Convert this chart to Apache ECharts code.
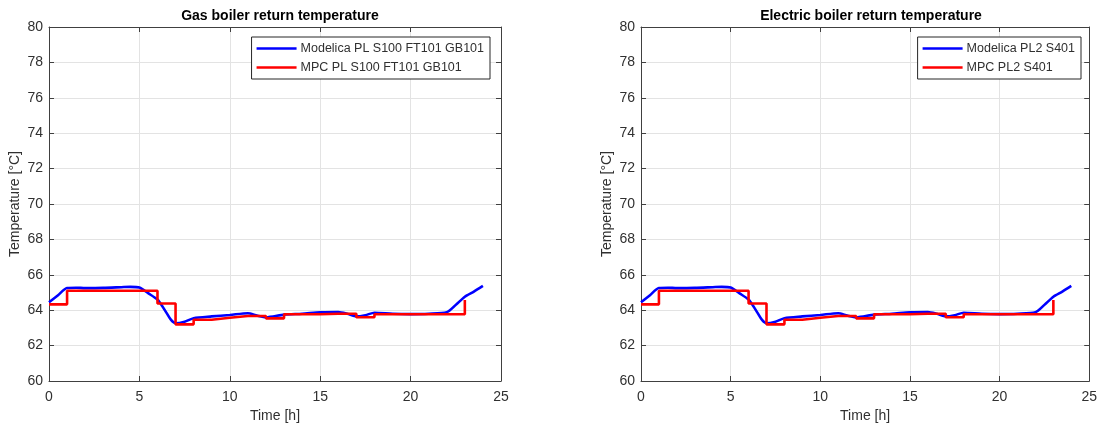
<!DOCTYPE html>
<html>
<head>
<meta charset="utf-8">
<script src="https://cdn.jsdelivr.net/npm/echarts@6/dist/echarts.min.js"></script>
<style>
html,body{margin:0;padding:0;background:#fff;}
#chart{width:1100px;height:428px;}
</style>
</head>
<body>
<div id="chart"></div>
<script>
// ---- Data ----
const titles = ["Gas boiler return temperature", "Electric boiler return temperature"];
const modelicaNames = ["Modelica PL S100 FT101 GB101", "Modelica PL2 S401"];
const mpcNames = ["MPC PL S100 FT101 GB101", "MPC PL2 S401"];

// Modelica (continuous) simulation
const modelicaTime = [0, 0.5, 1, 1.5, 2, 3, 4, 4.5, 5, 5.5, 6, 6.25, 6.5, 6.75, 7, 7.5, 8, 9, 10, 11, 11.5, 12, 13, 14, 15, 16, 16.5, 17, 17.5, 18, 19, 20, 21, 22, 22.5, 23, 23.5, 24];
const modelicaTemp = [64.45, 64.85, 65.25, 65.27, 65.25, 65.26, 65.3, 65.32, 65.28, 64.95, 64.6, 64.25, 63.85, 63.45, 63.26, 63.35, 63.55, 63.65, 63.73, 63.83, 63.7, 63.6, 63.75, 63.8, 63.88, 63.9, 63.8, 63.65, 63.72, 63.86, 63.8, 63.78, 63.8, 63.88, 64.3, 64.76, 65.05, 65.37];

// MPC (hourly, stairs)
const mpcTime = [0, 1, 2, 3, 4, 5, 6, 7, 8, 9, 10, 11, 12, 13, 14, 15, 16, 17, 18, 19, 20, 21, 22, 23];
const mpcTemp = [64.33, 65.1, 65.1, 65.1, 65.1, 65.1, 64.38, 63.2, 63.46, 63.57, 63.67, 63.67, 63.54, 63.77, 63.77, 63.8, 63.8, 63.6, 63.77, 63.77, 63.77, 63.77, 63.77, 64.58];

const xTicks = [0, 5, 10, 15, 20, 25];
const yTicks = [60, 62, 64, 66, 68, 70, 72, 74, 76, 78, 80];

// ---- Chart ----
const FONT = '"Liberation Sans", Arial, Helvetica, sans-serif';
const AX = '#404040';
const TXT = '#303030';
const GRIDC = '#e3e3e3';

const grids = [
  {left: 49, top: 27, width: 452, height: 354},
  {left: 641, top: 27, width: 450, height: 354}
];
const pairs = (xs, ys) => xs.map((x, i) => [x, ys[i]]);

const xAxes = [], yAxes = [], series = [], legends = [], titleArr = [];
grids.forEach((g, i) => {
  xAxes.push({
    type: 'value', gridIndex: i, position: 'bottom',
    min: xTicks[0], max: xTicks[xTicks.length - 1], interval: xTicks[1] - xTicks[0],
    name: 'Time [h]', nameLocation: 'middle', nameGap: 27,
    nameTextStyle: {fontFamily: FONT, fontSize: 14, color: TXT},
    axisLine: {show: true, onZero: false, lineStyle: {color: AX, width: 1}},
    axisTick: {show: true, inside: true, length: 5, lineStyle: {color: AX}},
    axisLabel: {fontFamily: FONT, fontSize: 14, color: TXT, margin: 9},
    splitLine: {show: true, lineStyle: {color: GRIDC, width: 1}}
  });
  xAxes.push({
    type: 'value', gridIndex: i, position: 'top',
    min: xTicks[0], max: xTicks[xTicks.length - 1], interval: xTicks[1] - xTicks[0],
    axisLine: {show: true, onZero: false, lineStyle: {color: AX, width: 1}},
    axisTick: {show: true, inside: true, length: 5, lineStyle: {color: AX}},
    axisLabel: {show: false}, splitLine: {show: false}
  });
  yAxes.push({
    type: 'value', gridIndex: i, position: 'left',
    min: yTicks[0], max: yTicks[yTicks.length - 1], interval: yTicks[1] - yTicks[0],
    name: 'Temperature [°C]', nameLocation: 'middle', nameGap: 27,
    nameTextStyle: {fontFamily: FONT, fontSize: 14, color: TXT},
    axisLine: {show: true, onZero: false, lineStyle: {color: AX, width: 1}},
    axisTick: {show: true, inside: true, length: 5, lineStyle: {color: AX}},
    axisLabel: {fontFamily: FONT, fontSize: 14, color: TXT, margin: 6},
    splitLine: {show: true, lineStyle: {color: GRIDC, width: 1}}
  });
  yAxes.push({
    type: 'value', gridIndex: i, position: 'right',
    min: yTicks[0], max: yTicks[yTicks.length - 1], interval: yTicks[1] - yTicks[0],
    axisLine: {show: true, onZero: false, lineStyle: {color: AX, width: 1}},
    axisTick: {show: true, inside: true, length: 5, lineStyle: {color: AX}},
    axisLabel: {show: false}, splitLine: {show: false}
  });
  series.push({
    name: modelicaNames[i], type: 'line', xAxisIndex: 2 * i, yAxisIndex: 2 * i,
    data: pairs(modelicaTime, modelicaTemp), symbol: 'none', smooth: 0.25,
    lineStyle: {color: '#0000ff', width: 2.6}, itemStyle: {color: '#0000ff'},
    z: 2, animation: false
  });
  series.push({
    name: mpcNames[i], type: 'line', xAxisIndex: 2 * i, yAxisIndex: 2 * i,
    data: pairs(mpcTime, mpcTemp), symbol: 'none', step: 'end',
    lineStyle: {color: '#ff0000', width: 2.6}, itemStyle: {color: '#ff0000'},
    z: 3, animation: false
  });
  legends.push({
    data: [modelicaNames[i], mpcNames[i]],
    orient: 'vertical', right: i === 0 ? 610 : 19, top: 37,
    backgroundColor: '#fff', borderColor: '#262626', borderWidth: 1,
    padding: [5, 6, 5, 5], itemGap: 6, itemWidth: 40, itemHeight: 14,
    textStyle: {fontFamily: FONT, fontSize: 12.5, color: TXT, padding: [0, 0, 0, -1]},
    icon: 'path://M0,6 L40,6 L40,8.6 L0,8.6 Z'
  });
  titleArr.push({
    text: titles[i], left: g.left + g.width / 2, top: 4, textAlign: 'center',
    textStyle: {fontFamily: FONT, fontSize: 14, fontWeight: 'bold', color: '#000'}
  });
});

const chart = echarts.init(document.getElementById('chart'), null, {renderer: 'canvas'});
chart.setOption({
  backgroundColor: '#fff',
  animation: false,
  title: titleArr,
  grid: grids,
  xAxis: xAxes,
  yAxis: yAxes,
  legend: legends,
  series: series
});
</script>
</body>
</html>
